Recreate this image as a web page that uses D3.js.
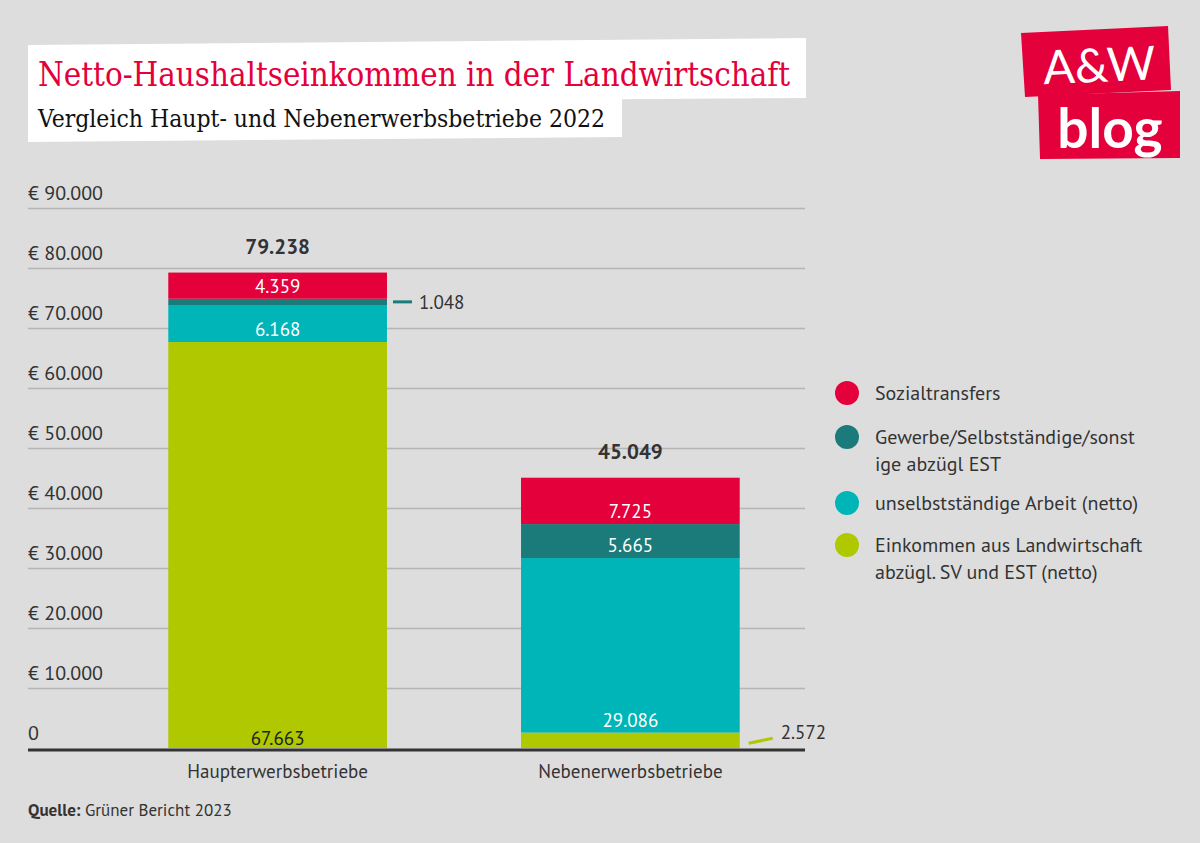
<!DOCTYPE html>
<html><head><meta charset="utf-8">
<script src="https://cdn.jsdelivr.net/npm/d3@7"></script>
<style>
html,body{margin:0;padding:0;background:#dddddd;}
svg{display:block;}
</style></head>
<body>
<svg id="chart" width="1200" height="843"></svg>
<script>
const categories = ["Haupterwerbsbetriebe", "Nebenerwerbsbetriebe"];
const seriesNames = ["Einkommen aus Landwirtschaft abzügl. SV und EST (netto)", "unselbstständige Arbeit (netto)", "Gewerbe/Selbstständige/sonstige abzügl EST", "Sozialtransfers"];
const landwirtschaft = [67663, 2572];
const unselbststaendig = [6168, 29086];
const gewerbe = [1048, 5665];
const sozialtransfers = [4359, 7725];
const totals = [79238, 45049];
const tickValues = [0, 10000, 20000, 30000, 40000, 50000, 60000, 70000, 80000, 90000];
const tickLabels = ["0", "€ 10.000", "€ 20.000", "€ 30.000", "€ 40.000", "€ 50.000", "€ 60.000", "€ 70.000", "€ 80.000", "€ 90.000"];
const legendLabels = [["Sozialtransfers"], ["Gewerbe/Selbstständige/sonst", "ige abzügl EST"], ["unselbstständige Arbeit (netto)"], ["Einkommen aus Landwirtschaft", "abzügl. SV und EST (netto)"]];

const colors = ["#afc800", "#00b5b8", "#1b7b7b", "#e4003a"];
const svg = d3.select("#chart");
const font = "'PT Sans', 'Noto Sans', Lato, sans-serif";
const fmt = v => d3.format(",")(v).replace(/,/g, ".");

// Header
const hdr = svg.append("g");
hdr.append("polygon").attr("points", "28,45 806,38 806,98 28,103").attr("fill", "#fff");
hdr.append("polygon").attr("points", "28,100 622,98 622,137 28,142").attr("fill", "#fff");
hdr.append("text").attr("x", 38).attr("y", 86).attr("font-family", "'DejaVu Serif Condensed', 'DejaVu Serif', serif")
  .attr("font-stretch", "condensed")
  .attr("font-size", 34).attr("fill", "#e4003a").attr("textLength", 752).attr("lengthAdjust", "spacingAndGlyphs")
  .text("Netto-Haushaltseinkommen in der Landwirtschaft");
hdr.append("text").attr("x", 38).attr("y", 127).attr("font-family", "'DejaVu Serif Condensed', 'DejaVu Serif', serif")
  .attr("font-stretch", "condensed")
  .attr("font-size", 24).attr("fill", "#111").attr("textLength", 567).attr("lengthAdjust", "spacingAndGlyphs")
  .text("Vergleich Haupt- und Nebenerwerbsbetriebe 2022");

// Logo
const logo = svg.append("g");
logo.append("polygon").attr("points", "1021,33 1168,26 1171,90 1025,97").attr("fill", "#e4003a");
logo.append("polygon").attr("points", "1038,95 1180,91 1180,158 1040,159").attr("fill", "#e4003a");
logo.append("text").attr("x", 1099).attr("y", 82).attr("text-anchor", "middle").attr("font-family", "Lato, 'Noto Sans', sans-serif")
  .attr("font-size", 47).attr("fill", "#fff").attr("transform", "rotate(-2.5,1097,62)").text("A&W");
logo.append("text").attr("x", 1110).attr("y", 148).attr("text-anchor", "middle").attr("font-family", "Lato, 'Noto Sans', sans-serif")
  .attr("font-weight", "bold").attr("font-size", 55).attr("fill", "#fff").text("blog");

// Scales
const y = d3.scaleLinear().domain([0, 90000]).range([748, 208]);
const x = d3.scaleBand().domain(categories).range([66, 842]).paddingInner(0.38).paddingOuter(0.29);

// Gridlines & tick labels
const yAxis = d3.axisLeft(y).tickValues(tickValues).tickSize(0).tickFormat((d, i) => tickLabels[i]);
const gAxis = svg.append("g").attr("transform", "translate(28,0)").call(yAxis);
gAxis.select(".domain").remove();
gAxis.selectAll(".tick line").attr("x2", 777).attr("stroke", "#b5b5b5").attr("stroke-width", 1.5);
gAxis.selectAll(".tick text").attr("x", 0).attr("dy", -9).attr("text-anchor", "start")
  .attr("font-family", font).attr("font-size", 20).attr("fill", "#333");
gAxis.selectAll(".tick").filter(d => d === 0).select("line").remove();

// Stacked bars
const rows = categories.map((c, i) => ({cat: c, s0: landwirtschaft[i], s1: unselbststaendig[i], s2: gewerbe[i], s3: sozialtransfers[i]}));
const stack = d3.stack().keys(["s0", "s1", "s2", "s3"])(rows);
const gBars = svg.append("g");
stack.forEach((layer, li) => {
  gBars.selectAll(null).data(layer).join("rect")
    .attr("x", d => x(d.data.cat)).attr("width", x.bandwidth())
    .attr("y", d => y(d[1])).attr("height", d => y(d[0]) - y(d[1]))
    .attr("fill", colors[li]);
});

// Segment labels
const inside = [[true, false], [true, true], [false, true], [true, true]];
stack.forEach((layer, li) => {
  layer.forEach((d, ci) => {
    const v = d[1] - d[0];
    const cx = x(d.data.cat) + x.bandwidth() / 2;
    if (inside[li][ci]) {
      svg.append("text").attr("x", cx).attr("y", y(d[0]) - (li === 0 && ci === 0 ? 3 : 6))
        .attr("text-anchor", "middle").attr("font-family", font).attr("font-size", 19)
        .attr("fill", li === 0 ? "#222" : "#fff").text(fmt(v));
    } else {
      const xr = x(d.data.cat) + x.bandwidth();
      const ym = (y(d[0]) + y(d[1])) / 2;
      if (li === 0) {
        svg.append("line").attr("x1", xr + 9).attr("x2", xr + 33).attr("y1", ym + 3).attr("y2", ym - 2)
          .attr("stroke", colors[li]).attr("stroke-width", 3);
        svg.append("text").attr("x", xr + 41).attr("y", ym - 1).attr("font-family", font).attr("font-size", 19)
          .attr("fill", "#333").text(fmt(v));
      } else {
        svg.append("line").attr("x1", xr + 6).attr("x2", xr + 25).attr("y1", ym).attr("y2", ym)
          .attr("stroke", colors[li]).attr("stroke-width", 3);
        svg.append("text").attr("x", xr + 32).attr("y", ym + 7).attr("font-family", font).attr("font-size", 19)
          .attr("fill", "#333").text(fmt(v));
      }
    }
  });
});

// Totals
categories.forEach((c, i) => {
  svg.append("text").attr("x", x(c) + x.bandwidth() / 2).attr("y", y(d3.sum([landwirtschaft[i], unselbststaendig[i], gewerbe[i], sozialtransfers[i]])) - 19)
    .attr("text-anchor", "middle").attr("font-family", font).attr("font-weight", "bold").attr("font-size", 21)
    .attr("fill", "#333").text(fmt(totals[i]));
});

// Baseline
svg.append("line").attr("x1", 28).attr("x2", 805).attr("y1", y(0) + 2).attr("y2", y(0) + 2)
  .attr("stroke", "#333").attr("stroke-width", 3);

// Category labels
const xAxis = d3.axisBottom(x).tickSize(0);
const gx = svg.append("g").attr("transform", `translate(0,${y(0) + 13})`).call(xAxis);
gx.select(".domain").remove();
gx.selectAll(".tick text").attr("font-family", font).attr("font-size", 19).attr("fill", "#333");

// Legend
const legY = [393, 437, 503, 545];
const legColors = [colors[3], colors[2], colors[1], colors[0]];
legendLabels.forEach((lines, i) => {
  svg.append("circle").attr("cx", 847).attr("cy", legY[i]).attr("r", 12).attr("fill", legColors[i]);
  lines.forEach((t, j) => {
    svg.append("text").attr("x", 875).attr("y", legY[i] + 7 + j * 27).attr("font-family", font)
      .attr("font-size", 20).attr("fill", "#333").text(t);
  });
});

// Source
const src = svg.append("text").attr("x", 28).attr("y", 816).attr("font-family", font).attr("font-size", 17).attr("fill", "#333");
src.append("tspan").attr("font-weight", "bold").text("Quelle:");
src.append("tspan").text(" Grüner Bericht 2023");
</script>
</body></html>
